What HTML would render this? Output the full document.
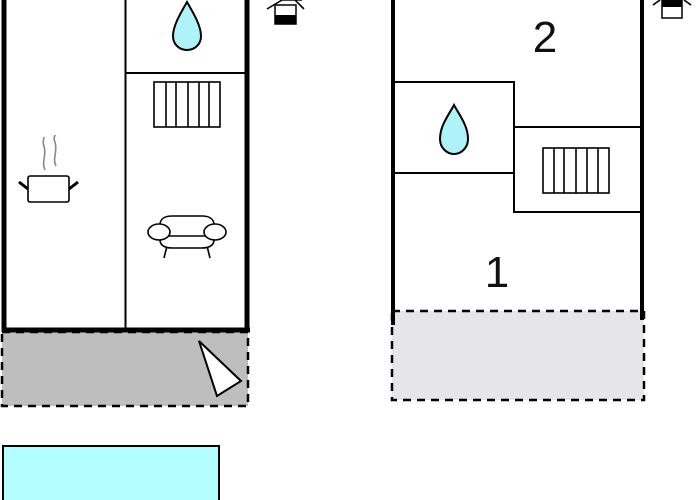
<!DOCTYPE html>
<html><head><meta charset="utf-8"><style>
html,body{margin:0;padding:0;background:#fff;width:700px;height:500px;overflow:hidden}
svg{display:block}
text{font-family:"Liberation Sans",sans-serif}
</style></head><body>
<svg width="700" height="500" viewBox="0 0 700 500" xmlns="http://www.w3.org/2000/svg">
<!-- Left building -->
<rect x="2" y="332" width="246" height="74" fill="#bebebe" stroke="#000" stroke-width="2.5" stroke-dasharray="8,6"/>
<line x1="4" y1="0" x2="4" y2="332" stroke="#000" stroke-width="5"/>
<line x1="247" y1="0" x2="247" y2="332" stroke="#000" stroke-width="5"/>
<line x1="2" y1="330" x2="250" y2="330" stroke="#000" stroke-width="5"/>
<line x1="125.5" y1="0" x2="125.5" y2="330" stroke="#000" stroke-width="2"/>
<line x1="125" y1="73" x2="246" y2="73" stroke="#000" stroke-width="2"/>
<!-- drop -->
<path d="M187,2 C180,14 173,26 173,36 C173,45 180,50 187,50 C194,50 201,45 201,36 C201,26 194,14 187,2 Z" fill="#aef3f8" stroke="#000" stroke-width="2"/>
<!-- radiator -->
<g stroke="#000" stroke-width="1.6" fill="#fff">
<rect x="154" y="82" width="66" height="45"/>
<line x1="166" y1="82" x2="166" y2="127"/><line x1="176" y1="82" x2="176" y2="127"/><line x1="188" y1="82" x2="188" y2="127"/><line x1="199" y1="82" x2="199" y2="127"/><line x1="209" y1="82" x2="209" y2="127"/>
</g>
<!-- pot -->
<rect x="28" y="176" width="41" height="26" rx="2" fill="#fff" stroke="#000" stroke-width="1.6"/>
<line x1="19" y1="182" x2="28" y2="189" stroke="#000" stroke-width="3"/>
<line x1="69" y1="189" x2="78" y2="182" stroke="#000" stroke-width="3"/>
<path d="M45,170 C41,162 47,156 44,146 C42,142 44,140 44,137" fill="none" stroke="#888" stroke-width="1.6"/>
<path d="M56,166 C52,158 58,152 55,142 C53,138 55,136 55,135" fill="none" stroke="#888" stroke-width="1.6"/>
<!-- sofa -->
<g stroke="#000" stroke-width="1.6" fill="#fff">
<line x1="167" y1="246" x2="164" y2="258"/><line x1="207" y1="246" x2="210" y2="258"/>
<path d="M160,230 L160,225 C160,218 166,216 172,216 L202,216 C208,216 214,218 214,225 L214,230"/>
<path d="M160,236 L214,236 L214,240 C214,246 208,248 202,248 L172,248 C166,248 160,246 160,240 Z"/>
<ellipse cx="159" cy="232" rx="11" ry="8"/>
<ellipse cx="215" cy="232" rx="11" ry="8"/>
</g>
<!-- triangle -->
<polygon points="199,341 241,381 217,396" fill="#fff" stroke="#000" stroke-width="2"/>
<!-- icon -->
<g>
<polyline points="267,9 282,0 302,0" fill="none" stroke="#000" stroke-width="1.6"/>
<line x1="295" y1="0" x2="304" y2="9" stroke="#000" stroke-width="1.6"/>
<rect x="275" y="5" width="21" height="19" fill="#fff" stroke="#000" stroke-width="1.5"/>
<rect x="275" y="15" width="21" height="9" fill="#000"/>
</g>
<!-- pool -->
<rect x="3" y="446" width="216" height="60" fill="#b3ffff" stroke="#000" stroke-width="2"/>

<!-- Right building -->
<rect x="392" y="311" width="252" height="89" fill="#e6e6ea" stroke="#000" stroke-width="2.5" stroke-dasharray="8,6"/>
<line x1="393" y1="0" x2="393" y2="325" stroke="#000" stroke-width="4"/>
<line x1="642" y1="0" x2="642" y2="320" stroke="#000" stroke-width="4"/>
<g stroke="#000" stroke-width="2" fill="none">
<polyline points="394,82 514,82 514,212 641,212"/>
<line x1="394" y1="173" x2="514" y2="173"/>
<line x1="514" y1="127" x2="641" y2="127"/>
</g>
<path d="M454,105 C448,116 440,126 440,139 C440,148 447,154 454,154 C461,154 468,148 468,139 C468,126 460,116 454,105 Z" fill="#aef3f8" stroke="#000" stroke-width="2"/>
<g stroke="#000" stroke-width="1.6" fill="#fff">
<rect x="543" y="148" width="66" height="45"/>
<line x1="554" y1="148" x2="554" y2="193"/><line x1="564" y1="148" x2="564" y2="193"/><line x1="576" y1="148" x2="576" y2="193"/><line x1="587" y1="148" x2="587" y2="193"/><line x1="598" y1="148" x2="598" y2="193"/>
</g>
<text x="545" y="52" font-size="44" text-anchor="middle" fill="#111">2</text>
<text x="497" y="287" font-size="44" text-anchor="middle" fill="#111">1</text>
<g>
<line x1="653" y1="5" x2="660" y2="0" stroke="#000" stroke-width="1.6"/>
<line x1="684" y1="0" x2="691" y2="5" stroke="#000" stroke-width="1.6"/>
<rect x="662" y="0" width="20" height="18" fill="#fff" stroke="#000" stroke-width="1.5"/>
<rect x="662" y="0" width="20" height="7" fill="#000"/>
</g>
</svg>
</body></html>
